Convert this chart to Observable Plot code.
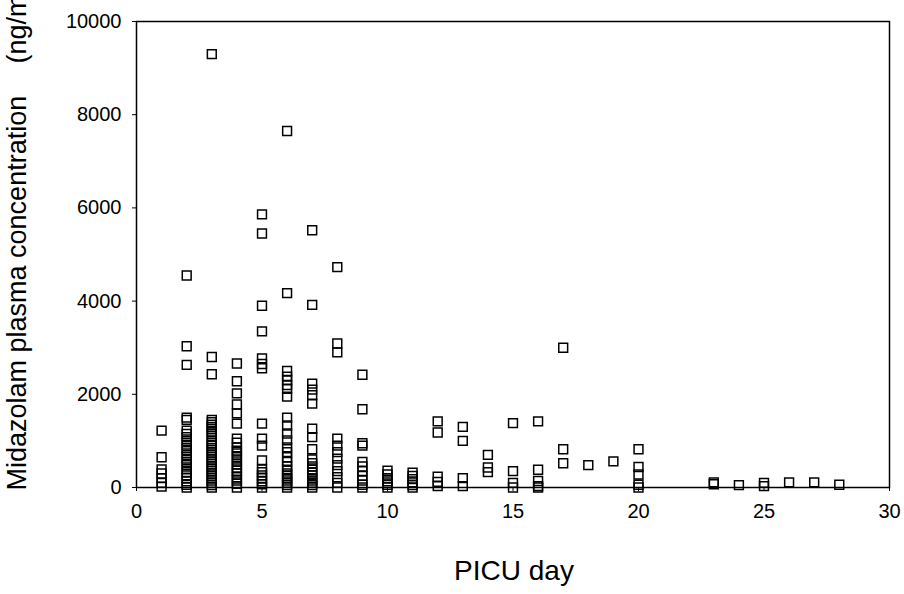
<!DOCTYPE html>
<html>
<head>
<meta charset="utf-8">
<script src="https://cdn.jsdelivr.net/npm/d3@7"></script>
<script src="https://cdn.jsdelivr.net/npm/@observablehq/plot@0.6"></script>
<style>
  html, body { margin: 0; padding: 0; background: #fff; }
  #chart { width: 904px; height: 594px; overflow: hidden; }
</style>
</head>
<body>
<div id="chart"></div>
<script>
// PICU day for each group of samples
const dayList = [1, 2, 3, 4, 5, 6, 7, 8, 9, 10, 11, 12, 13, 14, 15, 16, 17, 18, 19, 20, 23, 24, 25, 26, 27, 28];
// Midazolam plasma concentrations (ng/ml) measured on each day (same order as dayList)
const concByDay = [
  [1220, 650, 390, 300, 200, 100, 20],
  [4550, 3030, 2630, 1500, 1450, 1220, 1150, 1080, 1000, 920, 850, 780, 700, 620, 550, 480, 400, 330, 260, 200, 130, 60, 0],
  [9300, 2800, 2430, 1450, 1400, 1350, 1300, 1250, 1200, 1150, 1100, 1000, 950, 900, 850, 800, 750, 700, 650, 600, 550, 500, 450, 400, 350, 300, 250, 200, 150, 100, 50, 0],
  [2660, 2280, 2020, 1780, 1590, 1370, 1050, 960, 860, 790, 730, 650, 580, 500, 430, 360, 300, 220, 150, 80, 0],
  [5860, 5450, 3900, 3350, 2770, 2650, 2560, 1370, 1050, 900, 580, 400, 330, 260, 200, 130, 70, 0],
  [7650, 4170, 2500, 2380, 2300, 2200, 2120, 1950, 1500, 1330, 1160, 1010, 860, 760, 650, 550, 450, 380, 300, 250, 200, 150, 100, 50, 0],
  [5520, 3920, 2230, 2100, 1980, 1800, 1260, 1080, 820, 600, 520, 450, 380, 320, 260, 200, 150, 100, 50, 0],
  [4730, 3090, 2900, 1050, 900, 760, 620, 480, 350, 220, 100, 0],
  [2420, 1680, 950, 900, 550, 450, 350, 250, 150, 60, 0],
  [360, 280, 200, 130, 60, 0],
  [320, 250, 180, 110, 50, 0],
  [1420, 1180, 230, 120, 30],
  [1300, 1000, 200, 30],
  [700, 430, 330],
  [1380, 350, 100, 0],
  [1420, 380, 140, 30, 0],
  [3000, 820, 520],
  [480],
  [560],
  [820, 440, 280, 60, 0],
  [110, 70],
  [50],
  [100, 30],
  [110],
  [110],
  [60]
];
const xTicks = [0, 5, 10, 15, 20, 25, 30];
const yTicks = [0, 2000, 4000, 6000, 8000, 10000];
const xLabel = "PICU day";
const yLabel = "Midazolam plasma concentration\u2003\u2009(ng/ml)";

const points = dayList.flatMap((day, i) => concByDay[i].map(conc => ({day, conc})));

const font = "'Liberation Sans', Arial, Helvetica, sans-serif";

const chart = Plot.plot({
  width: 904,
  height: 594,
  marginLeft: 136,
  marginRight: 15,
  marginTop: 21,
  marginBottom: 107,
  style: {fontFamily: font, fontSize: "20px", color: "black", background: "white"},
  x: {domain: [0, 30], ticks: xTicks, tickSize: 4, tickPadding: 12, label: null},
  y: {domain: [0, 10000], ticks: yTicks, tickSize: 4, tickPadding: 11, label: null, tickFormat: d => String(d)},
  marks: [
    Plot.frame({stroke: "black", strokeWidth: 1.5}),
    Plot.dot(points, {x: "day", y: "conc", symbol: "square", r: 5, stroke: "black", strokeWidth: 1.5, fill: "none"}),
    Plot.text([xLabel], {text: d => d, frameAnchor: "bottom", dx: 1, dy: 92, fontSize: 28, fill: "black"}),
    Plot.text([yLabel], {text: d => d, frameAnchor: "bottom-left", rotate: -90, textAnchor: "start", dx: -111, dy: 3, fontSize: 27, fill: "black"})
  ]
});
document.getElementById("chart").appendChild(chart);
</script>
</body>
</html>
